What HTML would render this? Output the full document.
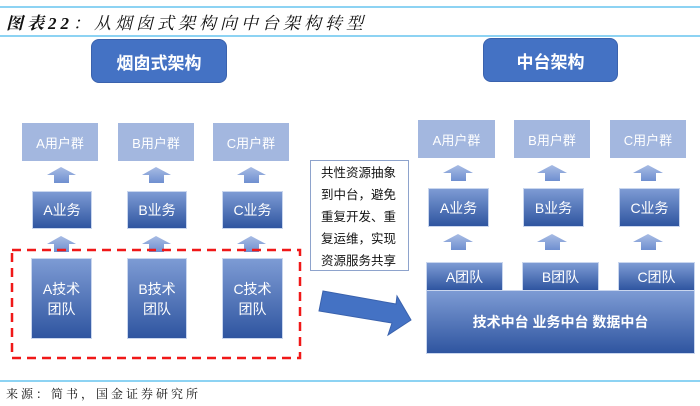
<!DOCTYPE html>
<html><head><meta charset="utf-8"><style>
body{margin:0;width:700px;height:406px;background:#fff;position:relative;overflow:hidden;font-family:"Liberation Sans","Noto Sans CJK SC",sans-serif}
.a{position:absolute;box-sizing:border-box;display:flex;align-items:center;justify-content:center;text-align:center;color:#fff}
.ug{background:#a3b7df;font-size:13px}
.bz{background:linear-gradient(#7d9bd4,#2f55a0);font-size:14px;border:1px solid #c9d6ee}
.btn{background:#4472c4;border-radius:8px;font-size:17px;font-weight:bold;border:1px solid #3a62ad}
.ln{position:absolute;left:0;width:700px;height:2px;background:#8dd3f3}
</style></head><body>
<div class="ln" style="top:6px"></div>
<div style="position:absolute;left:6px;top:9px;font-size:17px;font-style:italic;font-family:'Liberation Serif','Noto Serif CJK SC',serif;letter-spacing:4px;color:#111"><b>图表22</b>：从烟囱式架构向中台架构转型</div>
<div class="ln" style="top:35px"></div>
<div class="a btn" style="left:91px;top:39px;width:136px;height:44px">烟囱式架构</div>
<div class="a btn" style="left:483px;top:38px;width:135px;height:44px">中台架构</div>

<div class="a ug" style="left:22px;top:123px;width:76px;height:38px">A用户群</div>
<div class="a ug" style="left:118px;top:123px;width:76px;height:38px">B用户群</div>
<div class="a ug" style="left:213px;top:123px;width:76px;height:38px">C用户群</div>
<div class="a bz" style="left:32px;top:191px;width:60px;height:38px">A业务</div>
<div class="a bz" style="left:127px;top:191px;width:60px;height:38px">B业务</div>
<div class="a bz" style="left:222px;top:191px;width:61px;height:38px">C业务</div>
<div class="a bz" style="left:31px;top:258px;width:61px;height:81px;line-height:20px">A技术<br>团队</div>
<div class="a bz" style="left:127px;top:258px;width:60px;height:81px;line-height:20px">B技术<br>团队</div>
<div class="a bz" style="left:222px;top:258px;width:61px;height:81px;line-height:20px">C技术<br>团队</div>

<div class="a ug" style="left:418px;top:120px;width:77px;height:38px">A用户群</div>
<div class="a ug" style="left:514px;top:120px;width:76px;height:38px">B用户群</div>
<div class="a ug" style="left:610px;top:120px;width:76px;height:38px">C用户群</div>
<div class="a bz" style="left:428px;top:188px;width:61px;height:39px">A业务</div>
<div class="a bz" style="left:523px;top:188px;width:61px;height:39px">B业务</div>
<div class="a bz" style="left:619px;top:188px;width:61px;height:39px">C业务</div>
<div class="a bz" style="left:426px;top:262px;width:77px;height:29px">A团队</div>
<div class="a bz" style="left:522px;top:262px;width:77px;height:29px">B团队</div>
<div class="a bz" style="left:618px;top:262px;width:77px;height:29px">C团队</div>
<div class="a bz" style="left:426px;top:290px;width:269px;height:64px;font-weight:bold;font-size:14px">技术中台 业务中台 数据中台</div>

<div style="position:absolute;left:310px;top:160px;width:99px;height:111px;box-sizing:border-box;border:1px solid #8ea3cc;font-size:12.5px;line-height:22px;color:#111;padding:1px 0 0 10px">共性资源抽象<br>到中台，避免<br>重复开发、重<br>复运维，实现<br>资源服务共享</div>

<svg style="position:absolute;left:0;top:0" width="700" height="406">
<defs><linearGradient id="g" x1="0" y1="0" x2="0" y2="1"><stop offset="0" stop-color="#a8bce4"/><stop offset="1" stop-color="#6f8fd0"/></linearGradient></defs>
<g fill="url(#g)">
<path d="M47,175 L61,167 L76,175 L69,175 L69,183 L54,183 L54,175Z"/>
<path d="M142,175 L156,167 L171,175 L164,175 L164,183 L149,183 L149,175Z"/>
<path d="M237,175 L251,167 L266,175 L259,175 L259,183 L244,183 L244,175Z"/>
<path d="M47,244 L61,236 L76,244 L69,244 L69,252 L54,252 L54,244Z"/>
<path d="M142,244 L156,236 L171,244 L164,244 L164,252 L149,252 L149,244Z"/>
<path d="M237,244 L251,236 L266,244 L259,244 L259,252 L244,252 L244,244Z"/>
<path d="M443,173 L458,165 L473,173 L466,173 L466,181 L451,181 L451,173Z"/>
<path d="M537,173 L552,165 L567,173 L560,173 L560,181 L545,181 L545,173Z"/>
<path d="M633,173 L648,165 L663,173 L656,173 L656,181 L641,181 L641,173Z"/>
<path d="M443,242 L458,234 L473,242 L466,242 L466,250 L451,250 L451,242Z"/>
<path d="M537,242 L552,234 L567,242 L560,242 L560,250 L545,250 L545,242Z"/>
<path d="M633,242 L648,234 L663,242 L656,242 L656,250 L641,250 L641,242Z"/>
</g>
<rect x="12" y="250" width="288" height="108" fill="none" stroke="#f01818" stroke-width="2.5" stroke-dasharray="9,6"/>
<polygon points="323,291 396,304 397,296 411,320 388,335 392,323 319,311" fill="#4472c4" stroke="#3a62ad"/>
</svg>
<div class="ln" style="top:380px"></div>
<div style="position:absolute;left:6px;top:385px;font-size:12px;font-family:'Liberation Serif','Noto Serif CJK SC',serif;letter-spacing:3px;color:#111">来源：简书，国金证券研究所</div>
</body></html>
